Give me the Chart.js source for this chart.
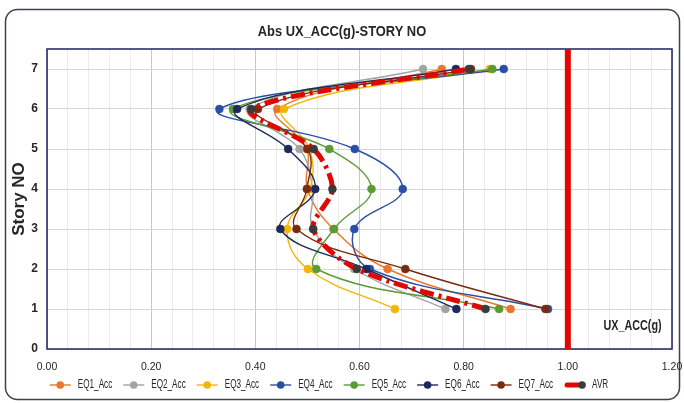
<!DOCTYPE html>
<html>
<head>
<meta charset="utf-8">
<script src="https://cdn.jsdelivr.net/npm/chart.js@4/dist/chart.umd.min.js"></script>
<style>
  html, body { margin: 0; padding: 0; background: #ffffff; }
  #wrap { width: 684px; height: 403px; }
</style>
</head>
<body>
<div id="wrap"><canvas id="c" width="684" height="403"></canvas></div>
<script>
// Story levels (vertical axis) and absolute UX acceleration (g) per record
const stories = [1, 2, 3, 4, 5, 6, 7];
const eq1Acc = [0.890, 0.654, 0.550, 0.500, 0.499, 0.442, 0.758];
const eq2Acc = [0.765, 0.590, 0.511, 0.510, 0.485, 0.389, 0.722];
const eq3Acc = [0.668, 0.501, 0.461, 0.505, 0.504, 0.455, 0.850];
const eq4Acc = [0.962, 0.620, 0.590, 0.683, 0.591, 0.331, 0.877];
const eq5Acc = [0.868, 0.517, 0.551, 0.623, 0.542, 0.357, 0.855];
const eq6Acc = [0.786, 0.613, 0.448, 0.515, 0.463, 0.365, 0.785];
const eq7Acc = [0.957, 0.688, 0.479, 0.499, 0.500, 0.405, 0.814];
const avrAcc = [0.842, 0.595, 0.511, 0.548, 0.512, 0.392, 0.810];

// Limit line at 1.0 g spanning the full story range
const limitX = [1.0, 1.0];
const limitY = [0, 7.5];

const seriesNames = ['EQ1_Acc', 'EQ2_Acc', 'EQ3_Acc', 'EQ4_Acc', 'EQ5_Acc', 'EQ6_Acc', 'EQ7_Acc'];
const seriesValues = [eq1Acc, eq2Acc, eq3Acc, eq4Acc, eq5Acc, eq6Acc, eq7Acc];
const seriesColors = ['#E8772A', '#A3A3A3', '#F2B705', '#2A4FA6', '#5B9B34', '#1C2B5C', '#7A2A0E'];

const xTickValues = [0, 0.2, 0.4, 0.6, 0.8, 1.0, 1.2];
const xTickLabels = ['0.00', '0.20', '0.40', '0.60', '0.80', '1.00', '1.20'];
const yTickValues = [0, 1, 2, 3, 4, 5, 6, 7];

const chartTitle = 'Abs UX_ACC(g)-STORY NO';
const xCaption = 'UX_ACC(g)';

const FONT = "'Liberation Sans', Arial, sans-serif";
const TXT = '#262626';
const RED = '#E10600';
const AVR_MARK = '#3b3b3b';

const toPoints = (xs, ys) => xs.map((v, i) => ({ x: v, y: ys[i] }));

const datasets = seriesValues.map((vals, i) => ({
  label: seriesNames[i],
  data: toPoints(vals, stories),
  showLine: true,
  borderColor: seriesColors[i],
  backgroundColor: seriesColors[i],
  borderWidth: 1.4,
  tension: 0.4,
  pointRadius: 4,
  pointBackgroundColor: seriesColors[i],
  pointBorderColor: seriesColors[i],
  pointBorderWidth: 0.5,
  order: 10 - i
}));

datasets.push({
  label: 'AVR',
  data: toPoints(avrAcc, stories),
  showLine: true,
  borderColor: RED,
  backgroundColor: RED,
  borderWidth: 5,
  borderDash: [14, 5, 3, 5],
  borderCapStyle: 'butt',
  tension: 0.3,
  pointRadius: 4,
  pointBackgroundColor: AVR_MARK,
  pointBorderColor: AVR_MARK,
  pointBorderWidth: 0.5,
  order: 1
});

datasets.push({
  label: 'limit',
  data: toPoints(limitX, limitY),
  showLine: true,
  borderColor: RED,
  borderWidth: 6,
  pointRadius: 0,
  tension: 0,
  order: 0
});

// Draw text squeezed horizontally (narrow lettering)
function narrowText(ctx, text, x, y, font, squeeze, align) {
  ctx.save();
  ctx.translate(x, y);
  ctx.scale(squeeze, 1);
  ctx.font = font;
  ctx.fillStyle = TXT;
  ctx.textAlign = align;
  ctx.textBaseline = 'middle';
  ctx.fillText(text, 0, 0);
  ctx.restore();
}

const framePlugin = {
  id: 'frame',
  beforeDraw(chart) {
    const ctx = chart.ctx;
    ctx.save();
    ctx.fillStyle = '#ffffff';
    ctx.fillRect(0, 0, chart.width, chart.height);
    ctx.strokeStyle = '#3d4150';
    ctx.lineWidth = 1.5;
    ctx.beginPath();
    ctx.roundRect(5.5, 9.5, 674, 390, 12);
    ctx.stroke();
    ctx.restore();
    narrowText(ctx, chartTitle, chart.width / 2, 32, "bold 15px " + FONT, 0.86, 'center');
  },
  beforeDatasetsDraw(chart) {
    const { ctx, chartArea: a, scales } = chart;
    ctx.save();
    ctx.strokeStyle = '#2B2F6E';
    ctx.lineWidth = 1.6;
    ctx.strokeRect(a.left, a.top, a.right - a.left, a.bottom - a.top);
    ctx.restore();
    // axis caption inside the plot, bottom right
    narrowText(ctx, xCaption, scales.x.getPixelForValue(1.18), scales.y.getPixelForValue(0.57),
      "bold 15px " + FONT, 0.72, 'right');
  }
};

// Single-row legend with narrow lettering, line + marker swatches
const legendRow = {
  id: 'legendRow',
  afterDraw(chart) {
    const ctx = chart.ctx;
    const squeeze = 0.68;
    const swW = 21, gapA = 7, gapB = 11;
    const font = "12px " + FONT;
    const items = chart.data.datasets.filter(d => d.label !== 'limit');
    ctx.save();
    ctx.font = font;
    const widths = items.map(d => ctx.measureText(d.label).width * squeeze);
    const total = widths.reduce((s, w) => s + swW + gapA + w, 0) + gapB * (items.length - 1);
    let x = 329 - total / 2;
    const y = 385;
    items.forEach((d, i) => {
      if (d.label === 'AVR') {
        ctx.strokeStyle = RED;
        ctx.lineWidth = 5;
        ctx.lineCap = 'round';
        ctx.beginPath(); ctx.moveTo(x + 3, y); ctx.lineTo(x + 14, y); ctx.stroke();
        ctx.fillStyle = AVR_MARK;
        ctx.beginPath(); ctx.arc(x + 18, y, 3.8, 0, Math.PI * 2); ctx.fill();
      } else {
        ctx.strokeStyle = d.borderColor;
        ctx.lineWidth = 1.4;
        ctx.lineCap = 'butt';
        ctx.beginPath(); ctx.moveTo(x, y); ctx.lineTo(x + swW, y); ctx.stroke();
        ctx.fillStyle = d.borderColor;
        ctx.beginPath(); ctx.arc(x + swW / 2, y, 3.8, 0, Math.PI * 2); ctx.fill();
      }
      const tx = x + swW + gapA;
      narrowText(ctx, d.label, tx, y, font, squeeze, 'left');
      x = tx + widths[i] + gapB;
    });
    ctx.restore();
  }
};

new Chart(document.getElementById('c'), {
  type: 'scatter',
  data: { datasets },
  plugins: [framePlugin, legendRow],
  options: {
    responsive: false,
    devicePixelRatio: 1,
    animation: false,
    layout: { padding: { left: 8, right: 12, top: 49, bottom: 24 } },
    plugins: {
      tooltip: { enabled: false },
      legend: { display: false },
      title: { display: false }
    },
    scales: {
      x: {
        type: 'linear',
        min: 0,
        max: 1.2,
        afterBuildTicks(scale) {
          const t = [];
          for (let i = 0; i <= 30; i++) t.push({ value: Math.round(i * 4) / 100 });
          scale.ticks = t;
        },
        afterFit(scale) {
          scale.height = 30;
          scale.paddingLeft = 0;
          scale.paddingRight = 0;
        },
        ticks: {
          autoSkip: false,
          maxRotation: 0,
          padding: 12,
          color: TXT,
          font: { family: FONT, size: 10.5 },
          callback(value) {
            const k = xTickValues.findIndex(v => Math.abs(v - value) < 1e-6);
            return k >= 0 ? xTickLabels[k] : '';
          }
        },
        grid: {
          drawTicks: false,
          color(ctx) {
            return ctx.index % 5 === 0 ? '#c9c9c9' : '#ebebeb';
          },
          lineWidth: 1
        },
        border: { display: false }
      },
      y: {
        type: 'linear',
        min: 0,
        max: 7.5,
        afterBuildTicks(scale) {
          scale.ticks = yTickValues.map(v => ({ value: v }));
        },
        afterFit(scale) {
          scale.width = 39;
          scale.paddingTop = 0;
          scale.paddingBottom = 0;
        },
        title: {
          display: true,
          text: 'Story NO',
          color: TXT,
          font: { family: FONT, size: 17, weight: 'bold' },
          padding: { top: 1, bottom: 0 }
        },
        ticks: {
          padding: 9,
          color: TXT,
          font: { family: FONT, size: 12, weight: 'bold' }
        },
        grid: { drawTicks: false, color: '#d6d6d6', lineWidth: 1 },
        border: { display: false }
      }
    }
  }
});
</script>
</body>
</html>
